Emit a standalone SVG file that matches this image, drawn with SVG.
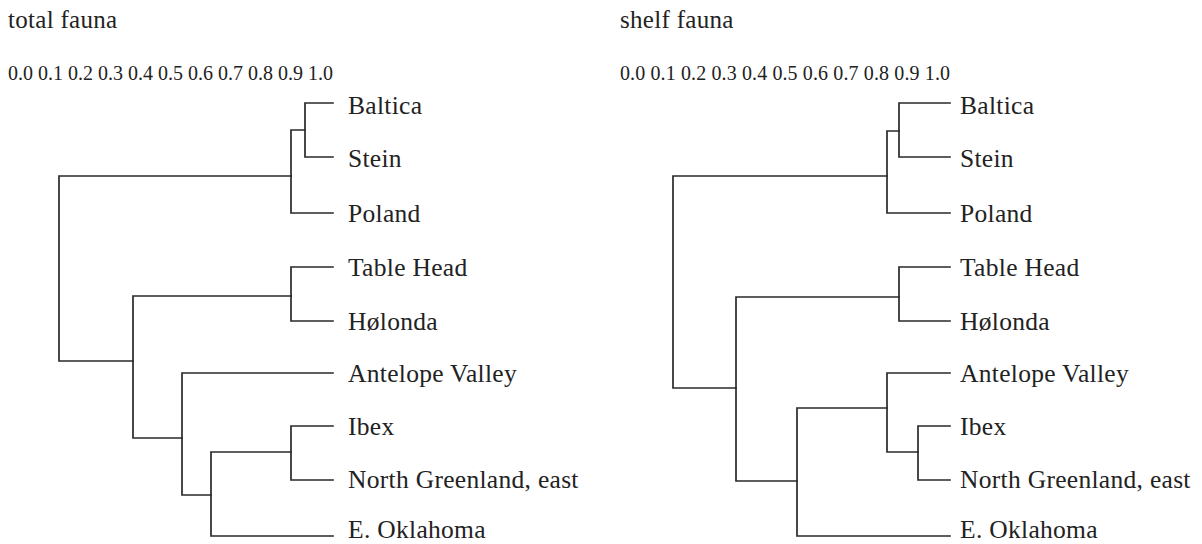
<svg xmlns="http://www.w3.org/2000/svg" width="1202" height="544" viewBox="0 0 1202 544">
<style>
text{font-family:"Liberation Serif","Times New Roman",serif;fill:#222}
.title{font-size:25px;letter-spacing:0.3px}
.scale{font-size:20px}
.leaf{font-size:25.5px;letter-spacing:0.3px}
.br{fill:none;stroke:#2a2a2a;stroke-width:1.7;stroke-linecap:square}
</style>
<rect width="1202" height="544" fill="#fff"/>
<text class="title" x="8" y="28">total fauna</text>
<text class="scale" x="8" y="80" textLength="325" lengthAdjust="spacing">0.0 0.1 0.2 0.3 0.4 0.5 0.6 0.7 0.8 0.9 1.0</text>
<text class="title" x="620" y="28">shelf fauna</text>
<text class="scale" x="620" y="80" textLength="330" lengthAdjust="spacing">0.0 0.1 0.2 0.3 0.4 0.5 0.6 0.7 0.8 0.9 1.0</text>

<g id="connectors">
<g id="left-tree">
<path class="br" d="M333,103H305V157H333"/>
<path class="br" d="M305,130H291V213H333"/>
<path class="br" d="M291,176H59V361H133"/>
<path class="br" d="M333,267H291V321H333"/>
<path class="br" d="M291,296H133V438H182"/>
<path class="br" d="M333,373H182V495H211"/>
<path class="br" d="M333,426H291V480H333"/>
<path class="br" d="M291,452H211V536H333"/>
</g>
<g id="right-tree">
<path class="br" d="M950,103H899V157H950"/>
<path class="br" d="M899,131H887V213H950"/>
<path class="br" d="M887,176H673V388H736"/>
<path class="br" d="M950,267H899V321H950"/>
<path class="br" d="M899,297H736V481H797"/>
<path class="br" d="M950,373H887V452H918"/>
<path class="br" d="M950,426H918V480H950"/>
<path class="br" d="M887,408H797V536H950"/>
</g>
</g>

<g id="left-nodes">
<g id="l-baltica"><text class="leaf" x="348" y="114">Baltica</text></g>
<g id="l-stein"><text class="leaf" x="348" y="167">Stein</text></g>
<g id="l-poland"><text class="leaf" x="348" y="222">Poland</text></g>
<g id="l-tablehead"><text class="leaf" x="348" y="276">Table Head</text></g>
<g id="l-holonda"><text class="leaf" x="348" y="330">Hølonda</text></g>
<g id="l-antelope"><text class="leaf" x="348" y="382">Antelope Valley</text></g>
<g id="l-ibex"><text class="leaf" x="348" y="435">Ibex</text></g>
<g id="l-northgreenland"><text class="leaf" x="348" y="488">North Greenland, east</text></g>
<g id="l-eoklahoma"><text class="leaf" x="348" y="538">E. Oklahoma</text></g>
</g>

<g id="right-nodes">
<g id="r-baltica"><text class="leaf" x="960" y="114">Baltica</text></g>
<g id="r-stein"><text class="leaf" x="960" y="167">Stein</text></g>
<g id="r-poland"><text class="leaf" x="960" y="222">Poland</text></g>
<g id="r-tablehead"><text class="leaf" x="960" y="276">Table Head</text></g>
<g id="r-holonda"><text class="leaf" x="960" y="330">Hølonda</text></g>
<g id="r-antelope"><text class="leaf" x="960" y="382">Antelope Valley</text></g>
<g id="r-ibex"><text class="leaf" x="960" y="435">Ibex</text></g>
<g id="r-northgreenland"><text class="leaf" x="960" y="488">North Greenland, east</text></g>
<g id="r-eoklahoma"><text class="leaf" x="960" y="538">E. Oklahoma</text></g>
</g>
</svg>
